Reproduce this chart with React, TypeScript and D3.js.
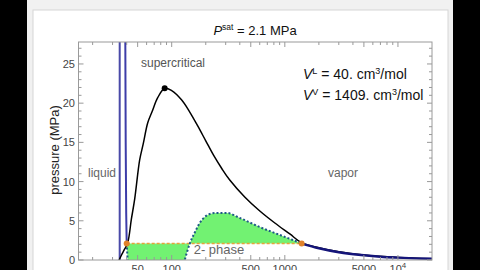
import React from 'react';
import * as d3 from 'd3';

// ---------- data (molar volume in cm^3/mol, pressure in MPa) ----------
const pSat = 2.1;
const vLiquid = 40;
const vVapor = 1409;
const vPeak = 86.7;
const pPeak = 21.9;

// supercritical isotherm (black)
const blackV = [34.3, 36, 38, 40.8, 44, 47.1, 52.1, 56, 61.4, 67, 75.2, 86.7, 100, 122.6, 144, 169.8, 200, 235, 277, 326, 442, 601, 816, 1107, 1409, 2000, 3000, 5000, 10000, 20000];
const blackP = [0, 0.64, 1.28, 2.17, 5.2, 7.8, 12.76, 14.8, 17.5, 18.9, 20.7, 21.9, 21.6, 20.4, 18.9, 17.1, 15.2, 13.33, 11.67, 10.2, 8.04, 6.25, 4.72, 3.32, 2.2, 1.57, 1.04, 0.63, 0.32, 0.16];

// subcritical isotherm: pole line, liquid branch, loop (dotted), vapor branch
const poleV = [34.7, 34.7];
const poleP = [-5, 40];
const liquidV = [38.7, 38.9, 39.2, 39.6, 40];
const liquidP = [40, 27.8, 15, 6, 2.1];
const loopV = [40, 40.8, 43, 50, 65, 90, 115, 130.4, 144, 160, 177, 196, 217, 250, 307, 400, 601, 904, 1178, 1409];
const loopP = [2.1, 0, -6, -12, -13, -8, -3, 0, 2.04, 3.5, 4.72, 5.48, 5.87, 6.0, 6.0, 5.36, 4.2, 3.19, 2.55, 2.1];
const vaporV = [1409, 2000, 3000, 5000, 7000, 10000, 14000, 20000];
const vaporP = [2.1, 1.5, 0.99, 0.6, 0.42, 0.3, 0.21, 0.15];

// ticks
const xMajor = [50, 100, 500, 1000, 5000, 10000];
const xMajorLabels = ['50', '100', '500', '1000', '5000', '10^4'];
const xMinor = [20, 30, 40, 60, 70, 80, 90, 200, 300, 400, 600, 700, 800, 900, 2000, 3000, 4000, 6000, 7000, 8000, 9000];
const yMajor = [0, 5, 10, 15, 20, 25];
const yMinor = [1, 2, 3, 4, 6, 7, 8, 9, 11, 12, 13, 14, 16, 17, 18, 19, 21, 22, 23, 24, 26, 27];

const FONT = '"Liberation Sans", Arial, sans-serif';

export default function App() {
  const L = 78.5, R = 432, T = 42, B = 260;
  const x = d3.scaleLog().domain([15, 20000]).range([L, R]);
  const y = d3.scaleLinear().domain([0, 27.8]).range([B, T]);

  const toPts = (vs: number[], ps: number[]) => vs.map((v, i) => [v, ps[i]] as [number, number]);
  const line = d3.line<[number, number]>().x(d => x(d[0])).y(d => y(d[1])).curve(d3.curveMonotoneX);
  const smooth = d3.line<[number, number]>().x(d => x(d[0])).y(d => y(d[1])).curve(d3.curveCatmullRom.alpha(0.5));
  const straight = d3.line<[number, number]>().x(d => x(d[0])).y(d => y(d[1]));
  const area = d3.area<[number, number]>().x(d => x(d[0])).y0(y(pSat)).y1(d => y(d[1])).curve(d3.curveMonotoneX);

  const blackPts = toPts(blackV, blackP);
  const loopPts = toPts(loopV, loopP);

  const tickCol = '#999';
  const labCol = '#444';

  return (
    <svg width={480} height={270} style={{ position: 'fixed', left: 0, top: 0 }} fontFamily={FONT}>
      <defs>
        <clipPath id="frame"><rect x={L} y={T} width={R - L} height={B - T} /></clipPath>
      </defs>
      <rect x={0} y={0} width={480} height={270} fill="#000" />
      <rect x={27} y={0} width={426} height={270} fill="#f1f1f1" />
      <rect x={33} y={10} width={415} height={265} fill="#fff" stroke="#d6d6d6" />

      {/* title */}
      <text x={255} y={35} textAnchor="middle" fontSize={13} fill="#111">
        <tspan fontStyle="italic">P</tspan>
        <tspan dy={-5} fontSize={8.5}>sat</tspan>
        <tspan dy={5}> = 2.1 MPa</tspan>
      </text>

      <g clipPath="url(#frame)">
        <path d={area(loopPts) || ''} fill="#72f272" />
        <path d={straight([[vLiquid, pSat], [vVapor, pSat]]) || ''} stroke="#e8a23a" strokeWidth={1.5} strokeDasharray="3,2" fill="none" />
        <path d={line(loopPts) || ''} stroke="#1f5a86" strokeWidth={2} strokeDasharray="2,2" fill="none" />
        <path d={straight(toPts(poleV, poleP)) || ''} stroke="#4a4aa8" strokeWidth={2} fill="none" />
        <path d={straight(toPts(liquidV, liquidP)) || ''} stroke="#3c3ca8" strokeWidth={2} fill="none" />
        <path d={smooth(blackPts) || ''} stroke="#000" strokeWidth={1.5} fill="none" />
        <path d={line(toPts(vaporV, vaporP)) || ''} stroke="#15157a" strokeWidth={2.4} fill="none" />
      </g>

      <circle cx={x(vPeak)} cy={y(pPeak)} r={3} fill="#000" />
      <circle cx={x(vLiquid)} cy={y(pSat)} r={3} fill="#e0822a" />
      <circle cx={x(vVapor)} cy={y(pSat)} r={3} fill="#e0822a" />

      {/* frame */}
      <rect x={L} y={T} width={R - L} height={B - T} fill="none" stroke="#9a9a9a" strokeWidth={1} />

      {/* x ticks */}
      {xMajor.map(v => (
        <g key={'xM' + v}>
          <line x1={x(v)} x2={x(v)} y1={B} y2={B - 5} stroke={tickCol} />
          <line x1={x(v)} x2={x(v)} y1={T} y2={T + 5} stroke={tickCol} />
        </g>
      ))}
      {xMinor.map(v => (
        <g key={'xm' + v}>
          <line x1={x(v)} x2={x(v)} y1={B} y2={B - 3} stroke={tickCol} />
          <line x1={x(v)} x2={x(v)} y1={T} y2={T + 3} stroke={tickCol} />
        </g>
      ))}
      {xMajor.map((v, i) => {
        const lab = xMajorLabels[i];
        if (lab.includes('^')) {
          const [b, e] = lab.split('^');
          return (
            <text key={'xl' + v} x={x(v)} y={273} textAnchor="middle" fontSize={11} fill={labCol}>
              {b}<tspan dy={-5} fontSize={8}>{e}</tspan>
            </text>
          );
        }
        return <text key={'xl' + v} x={x(v)} y={273} textAnchor="middle" fontSize={11} fill={labCol}>{lab}</text>;
      })}

      {/* y ticks */}
      {yMajor.map(v => (
        <g key={'yM' + v}>
          <line x1={L} x2={L + 5} y1={y(v)} y2={y(v)} stroke={tickCol} />
          <line x1={R} x2={R - 5} y1={y(v)} y2={y(v)} stroke={tickCol} />
          <text x={75} y={y(v) + 4} textAnchor="end" fontSize={11} fill={labCol}>{v}</text>
        </g>
      ))}
      {yMinor.map(v => (
        <g key={'ym' + v}>
          <line x1={L} x2={L + 3} y1={y(v)} y2={y(v)} stroke={tickCol} />
          <line x1={R} x2={R - 3} y1={y(v)} y2={y(v)} stroke={tickCol} />
        </g>
      ))}

      <text transform="translate(59,150) rotate(-90)" textAnchor="middle" fontSize={13} fill="#222">pressure (MPa)</text>

      {/* annotations */}
      <text x={173} y={67} textAnchor="middle" fontSize={12} fill="#555">supercritical</text>
      <text x={102} y={177} textAnchor="middle" fontSize={12} fill="#666">liquid</text>
      <text x={343} y={177} textAnchor="middle" fontSize={12} fill="#666">vapor</text>
      <text x={219} y={254} textAnchor="middle" fontSize={13} fill="#666">2- phase</text>

      <text x={303} y={79} fontSize={14} fill="#111">
        <tspan fontStyle="italic">V</tspan>
        <tspan dy={-5} fontSize={9}>L</tspan>
        <tspan dy={5}> = 40. cm</tspan>
        <tspan dy={-5} fontSize={9}>3</tspan>
        <tspan dy={5}>/mol</tspan>
      </text>
      <text x={303} y={100} fontSize={14} fill="#111">
        <tspan fontStyle="italic">V</tspan>
        <tspan dy={-5} fontSize={9}>V</tspan>
        <tspan dy={5}> = 1409. cm</tspan>
        <tspan dy={-5} fontSize={9}>3</tspan>
        <tspan dy={5}>/mol</tspan>
      </text>
    </svg>
  );
}
